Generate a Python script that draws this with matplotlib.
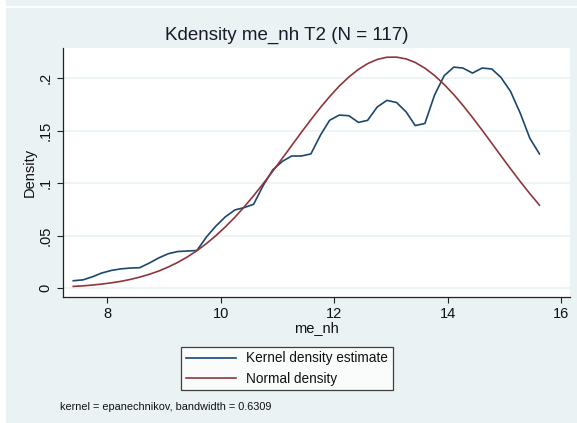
import matplotlib
matplotlib.use("Agg")
import matplotlib.pyplot as plt
from matplotlib.patches import Rectangle
from matplotlib.lines import Line2D

plt.rcParams['font.family'] = ['Liberation Sans', 'DejaVu Sans']

# ---- data ----
grid_x = [7.40, 7.57, 7.74, 7.90, 8.07, 8.24, 8.41, 8.57, 8.74, 8.91,
          9.08, 9.24, 9.41, 9.58, 9.75, 9.91, 10.08, 10.25, 10.42, 10.58,
          10.75, 10.92, 11.09, 11.25, 11.42, 11.59, 11.76, 11.92, 12.09, 12.26,
          12.43, 12.59, 12.76, 12.93, 13.10, 13.27, 13.43, 13.60, 13.77, 13.94,
          14.11, 14.27, 14.44, 14.61, 14.78, 14.94, 15.11, 15.28, 15.45, 15.62]
kernel_density = [0.0072, 0.0080, 0.0110, 0.0145, 0.0170, 0.0185, 0.0193, 0.0196, 0.0240, 0.0290,
                  0.0330, 0.0350, 0.0355, 0.0360, 0.0490, 0.0590, 0.0680, 0.0746, 0.0770, 0.0800,
                  0.0980, 0.1130, 0.1210, 0.1260, 0.1260, 0.1280, 0.1460, 0.1600, 0.1650, 0.1644,
                  0.1580, 0.1600, 0.1727, 0.1790, 0.1770, 0.1680, 0.1550, 0.1570, 0.1840, 0.2025,
                  0.2107, 0.2098, 0.2050, 0.2098, 0.2089, 0.2010, 0.1876, 0.1670, 0.1430, 0.1280]
normal_density = [0.0018, 0.0023, 0.0031, 0.0040, 0.0052, 0.0066, 0.0085, 0.0106, 0.0133, 0.0165,
                  0.0204, 0.0246, 0.0298, 0.0358, 0.0427, 0.0499, 0.0584, 0.0677, 0.0779, 0.0882,
                  0.0997, 0.1117, 0.1241, 0.1359, 0.1484, 0.1606, 0.1723, 0.1826, 0.1926, 0.2013,
                  0.2086, 0.2140, 0.2180, 0.2201, 0.2202, 0.2185, 0.2151, 0.2097, 0.2027, 0.1942,
                  0.1845, 0.1743, 0.1627, 0.1506, 0.1381, 0.1263, 0.1139, 0.1018, 0.0902, 0.0792]
x_ticks = [8, 10, 12, 14, 16]
y_ticks = [0, 0.05, 0.1, 0.15, 0.2]
y_tick_labels = ['0', '.05', '.1', '.15', '.2']
title = 'Kdensity me_nh T2 (N = 117)'
legend_labels = ['Kernel density estimate', 'Normal density']
note = 'kernel = epanechnikov, bandwidth = 0.6309'

BG = '#EAF2F3'
BLUE = '#1A476F'
RED = '#90353B'
W, H = 577, 423

fig = plt.figure(figsize=(W / 100, H / 100), dpi=100, facecolor='white')
# graph region background
fig.patches.append(Rectangle((6 / W, 0), 1 - 6 / W, (H - 8) / H, transform=fig.transFigure,
                             facecolor=BG, edgecolor='none', zorder=-10))
fig.patches.append(Rectangle((6 / W, (H - 6) / H), 1 - 6 / W, 6 / H, transform=fig.transFigure,
                             facecolor=BG, edgecolor='none', zorder=-10))

ax = fig.add_axes([63 / W, (H - 297) / H, (570 - 63) / W, (297 - 48) / H])
ax.set_zorder(1)
ax.set_facecolor('white')
ax.plot(grid_x, kernel_density, color=BLUE, lw=1.2, zorder=3)
ax.plot(grid_x, normal_density, color=RED, lw=1.2, zorder=3)

ax.set_xlim(7.219, 16.159)
ax.set_ylim(-0.0083, 0.2289)
ax.set_xticks(x_ticks)
ax.set_xticklabels([str(t) for t in x_ticks])
ax.set_yticks(y_ticks)
ax.set_yticklabels(y_tick_labels, rotation=90, va='center')
ax.yaxis.grid(True, color=BG, lw=1.2, zorder=1)
ax.set_axisbelow(True)
for s in ['top', 'right']:
    ax.spines[s].set_visible(False)
for s in ['left', 'bottom']:
    ax.spines[s].set_color('#222222')
    ax.spines[s].set_linewidth(0.9)
ax.tick_params(direction='out', length=4.5, width=0.8, color='#222222', labelsize=10.5,
               labelcolor='#111111', pad=3)
ax.set_xlabel('me_nh', fontsize=10.5, color='#111111', labelpad=0)
ax.set_ylabel('Density', fontsize=10.5, color='#111111', labelpad=1)

fig.text(0.497, 1 - 35 / H, title, ha='center', va='center', fontsize=13.5, color='#1a1a2a')

handles = [Line2D([], [], color=BLUE, lw=1.2), Line2D([], [], color=RED, lw=1.2)]
leg = ax.legend(handles, legend_labels, loc='center', bbox_to_anchor=(287 / W, 1 - 368.5 / H),
                bbox_transform=fig.transFigure, frameon=True, fancybox=False, fontsize=9.8,
                handlelength=3.7, handletextpad=0.7, borderpad=0.35, labelspacing=0.45,
                borderaxespad=0)
leg.get_frame().set_edgecolor('#111111')
leg.get_frame().set_linewidth(0.9)
for t in leg.get_texts():
    t.set_color('#111111')

fig.text(60 / W, 1 - 407 / H, note, ha='left', va='center', fontsize=7.8, color='#111111')

fig.savefig('out.png', dpi=100, facecolor='white')
